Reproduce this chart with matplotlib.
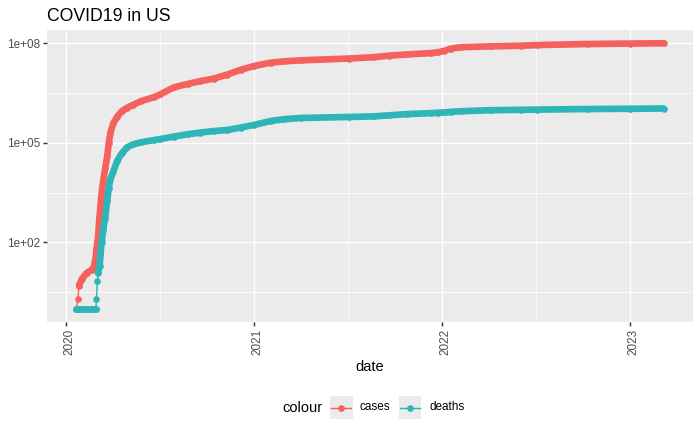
import matplotlib
matplotlib.use("Agg")
import matplotlib.pyplot as plt
import matplotlib.ticker as mticker
import matplotlib.transforms as mtransforms
from matplotlib.patches import Rectangle
from matplotlib.lines import Line2D
import numpy as np
import pandas as pd

plt.rcParams['font.family'] = ['Liberation Sans', 'DejaVu Sans']

# ---------------- data ----------------
title = "COVID19 in US"
x_title = "date"
legend_title = "colour"
series_names = ["cases", "deaths"]
series_colors = ["#F5625E", "#2DB5B8"]

dates = ["2020-01-21", "2020-01-24", "2020-01-26", "2020-02-01", "2020-02-10",
         "2020-02-20", "2020-02-24", "2020-02-28", "2020-02-29", "2020-03-02",
         "2020-03-03", "2020-03-06", "2020-03-10", "2020-03-13", "2020-03-17",
         "2020-03-21", "2020-03-24", "2020-03-27", "2020-04-02", "2020-04-09",
         "2020-04-18", "2020-04-29", "2020-05-10", "2020-05-25", "2020-06-20",
         "2020-07-02", "2020-07-28", "2020-08-24", "2020-09-18", "2020-10-14",
         "2020-11-09", "2020-12-05", "2021-01-01", "2021-02-02", "2021-02-28",
         "2021-04-01", "2021-07-03", "2021-08-21", "2021-09-20", "2021-10-25",
         "2021-12-10", "2021-12-23", "2022-01-05", "2022-01-18", "2022-02-06",
         "2022-04-06", "2022-06-03", "2022-07-04", "2022-10-11", "2023-01-01",
         "2023-03-07"]

cases = [1, 2, 5, 8, 12,
         15, 18, 40, 60, 100,
         140, 590, 3000, 7000, 17000,
         40000, 100000, 200000, 400000, 600000,
         900000, 1150000, 1400000, 1800000, 2400000,
         2900000, 4700000, 6000000, 7300000, 8700000,
         11500000, 16000000, 21000000, 26300000, 28800000,
         30900000, 35000000, 38500000, 43000000, 46500000,
         51000000, 54000000, 60000000, 70000000, 77000000,
         81500000, 85000000, 89000000, 96000000, 99000000,
         101000000]

deaths = [1, 1, 1, 1, 1,
          1, 1, 1, 2, 7,
          12, 19, 100, 230, 560,
          1900, 4500, 8000, 14000, 28000,
          48000, 74000, 90000, 104000, 122000,
          131000, 155000, 182000, 205000, 228000,
          245000, 290000, 350000, 460000, 520000,
          565000, 605000, 630000, 680000, 740000,
          790000, 810000, 830000, 860000, 900000,
          970000, 995000, 1010000, 1050000, 1070000,
          1090000]

year_ticks = ["2020-01-01", "2021-01-01", "2022-01-01", "2023-01-01"]
year_labels = ["2020", "2021", "2022", "2023"]
year_minor = ["2020-07-02", "2021-07-02", "2022-07-02"]
y_ticks = [1e2, 1e5, 1e8]
y_labels = ["1e+02", "1e+05", "1e+08"]

# ---------------- figure ----------------
W, H, DPI = 700, 432, 96
fig = plt.figure(figsize=(W / DPI, H / DPI), dpi=DPI)
fig.patch.set_facecolor("white")
PL, PR, PT, PB = 47, 693, 30, 322
ax = fig.add_axes([PL / W, 1 - PB / H, (PR - PL) / W, (PB - PT) / H])
ax.set_facecolor("#EBEBEB")
for s in ax.spines.values():
    s.set_visible(False)

d = pd.to_datetime(dates)
c = np.array(cases, dtype=float)
de = np.array(deaths, dtype=float)

ax.set_yscale("log")

thin_lw = 1.07
thick_lw = 5.0
ms = 5.0
# thin connecting lines
ax.plot(d, c, color=series_colors[0], lw=thin_lw, zorder=2)
ax.plot(d, de, color=series_colors[1], lw=thin_lw, zorder=2)
# dense runs of daily points appear as a solid band
ax.plot(d[2:], c[2:], color=series_colors[0], lw=thick_lw, zorder=3,
        solid_capstyle="round", solid_joinstyle="round")
ax.plot(d[:8], de[:8], color=series_colors[1], lw=thick_lw, zorder=4,
        solid_capstyle="round", solid_joinstyle="round")
ax.plot(d[10:], de[10:], color=series_colors[1], lw=thick_lw, zorder=4,
        solid_capstyle="round", solid_joinstyle="round")
# points
ax.plot(d, c, "o", color=series_colors[0], ms=ms, mew=0, zorder=3)
ax.plot(d, de, "o", color=series_colors[1], ms=ms, mew=0, zorder=4)

# limits with 5% expansion like ggplot
xmin, xmax = d.min(), d.max()
span = xmax - xmin
ax.set_xlim(xmin - span * 0.05, xmax + span * 0.05)
lo = np.log10(min(c.min(), de.min()))
hi = np.log10(max(c.max(), de.max()))
pad = (hi - lo) * 0.05
ax.set_ylim(10 ** (lo - pad), 10 ** (hi + pad))

# ticks
ax.xaxis.set_major_locator(mticker.FixedLocator(matplotlib.dates.date2num(pd.to_datetime(year_ticks))))
ax.xaxis.set_minor_locator(mticker.FixedLocator(matplotlib.dates.date2num(pd.to_datetime(year_minor))))
ax.set_xticklabels(year_labels)
ax.yaxis.set_major_locator(mticker.FixedLocator(y_ticks))
ax.yaxis.set_minor_locator(mticker.FixedLocator([10 ** 0.5, 10 ** 3.5, 10 ** 6.5]))
ax.yaxis.set_major_formatter(mticker.FixedFormatter(y_labels))
ax.yaxis.set_minor_formatter(mticker.NullFormatter())

ax.grid(which="major", color="white", lw=1.07, zorder=0)
ax.grid(which="minor", color="white", lw=0.53, zorder=0)
ax.set_axisbelow(True)

ax.tick_params(which="major", length=2.75, width=1.07, color="#333333",
               labelsize=8.8, labelcolor="#4D4D4D", pad=2.2)
ax.tick_params(which="minor", length=0)
for lab in ax.get_xticklabels():
    lab.set_rotation(90)
    lab.set_ha("center")
    lab.set_va("top")
    lab.set_transform(lab.get_transform() + mtransforms.ScaledTranslation(3 / DPI, 0, fig.dpi_scale_trans))

# text helpers in pixel coordinates
def fx(px):
    return px / W

def fy(py):
    return 1 - py / H

fig.text(fx(PL), fy(21), title, fontsize=13.2, color="black", ha="left", va="baseline")
fig.text(fx((PL + PR) / 2), fy(367), x_title, fontsize=11, color="black", ha="center", va="center")

# legend (bottom, horizontal)
leg_y = 407.5
fig.text(fx(282), fy(leg_y), legend_title, fontsize=11, color="black", ha="left", va="center")
key_x = [329.5, 398.5]
lab_x = [359.5, 429]
for i, name in enumerate(series_names):
    kx = key_x[i]
    fig.patches.append(Rectangle((fx(kx), fy(leg_y + 11.5)), 23 / W, 23 / H,
                                 transform=fig.transFigure, facecolor="#EBEBEB",
                                 edgecolor="none", zorder=1))
    fig.lines.append(Line2D([fx(kx + 1.5), fx(kx + 21.5)], [fy(leg_y), fy(leg_y)],
                            transform=fig.transFigure, color=series_colors[i], lw=thin_lw, zorder=2))
    fig.lines.append(Line2D([fx(kx + 11.5)], [fy(leg_y)], transform=fig.transFigure,
                            marker="o", ms=ms, mew=0, color=series_colors[i], zorder=3))
    fig.text(fx(lab_x[i]), fy(leg_y), name, fontsize=8.8, color="black", ha="left", va="center")

fig.savefig("out.png", dpi=DPI)
